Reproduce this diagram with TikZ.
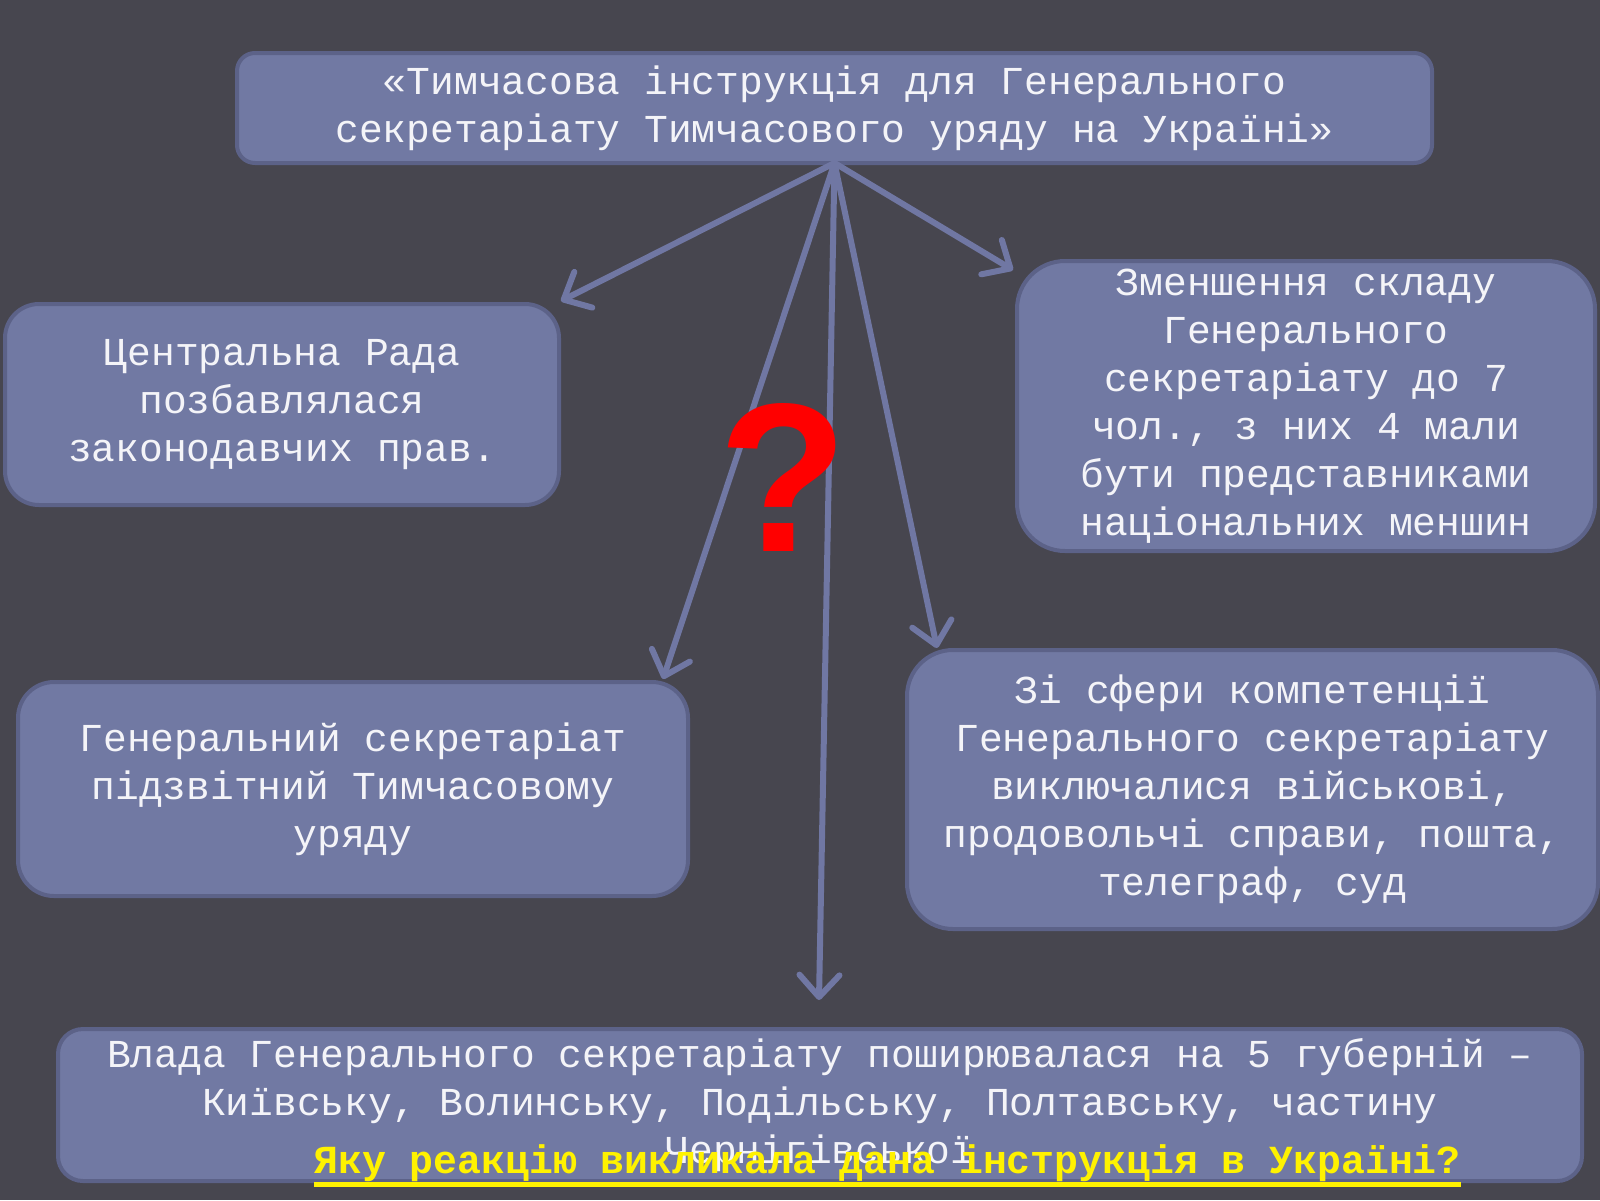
\documentclass[tikz,border=0pt]{standalone}
\usepackage{fontspec}
\newfontfamily\cour{Liberation Mono}
\newfontfamily\qfont{Liberation Sans}
\usetikzlibrary{arrows.meta}
\definecolor{bg}{HTML}{47464F}
\definecolor{boxfill}{HTML}{7179A3}
\definecolor{boxline}{HTML}{5C6288}
\definecolor{arrowc}{HTML}{7077A3}
\definecolor{txt}{HTML}{F4F4F8}
\begin{document}
\begin{tikzpicture}[x=0.5pt,y=-0.5pt,
  infobox/.style={draw=boxline, line width=2pt, fill=boxfill, inner sep=0pt, outer sep=0pt,
    align=center, text=txt, font=\cour\fontsize{19.8}{24}\selectfont},
  conn/.style={draw=arrowc, line width=3pt, line cap=round,
    -{Straight Barb[length=11pt,width=20pt,round]}}]
\fill[bg] (0,0) rectangle (1600,1200);
\useasboundingbox (0,0) rectangle (1600,1200);

\node[infobox, rounded corners=9pt, minimum width=597.5pt, minimum height=55pt] (top) at (834.5,108)
  {«Тимчасова інструкція для Генерального\\секретаріату Тимчасового уряду на Україні»};
\node[infobox, rounded corners=17pt, minimum width=277pt, minimum height=100.5pt] (rada) at (282,404.5)
  {Центральна Рада\\позбавлялася\\законодавчих прав.};
\node[infobox, rounded corners=24pt, minimum width=289pt, minimum height=145pt] (sklad) at (1306,406)
  {Зменшення складу\\Генерального\\секретаріату до 7\\чол., з них 4 мали\\бути представниками\\національних меншин};
\node[infobox, rounded corners=18pt, minimum width=335pt, minimum height=107pt] (pidzv) at (353,789)
  {Генеральний секретаріат\\підзвітний Тимчасовому\\уряду};
\node[infobox, rounded corners=23pt, minimum width=345.5pt, minimum height=139.5pt] (sfera) at (1252.5,789.5)
  {Зі сфери компетенції\\Генерального секретаріату\\виключалися військові,\\продовольчі справи, пошта,\\телеграф, суд};
\node[infobox, rounded corners=12.5pt, minimum width=762pt, minimum height=76pt] (vlada) at (820,1105)
  {Влада Генерального секретаріату поширювалася на 5 губерній –\\Київську, Волинську, Подільську, Полтавську, частину\\Чернігівської};

\coordinate (tRada) at (561,301);
\coordinate (tSklad) at (1013,270);
\coordinate (tPidzv) at (663,679);
\coordinate (tSfera) at (937,648);
\coordinate (tVlada) at (819,1000);

\draw[conn] (top.south) -- (tRada);
\draw[conn] (top.south) -- (tSklad);
\draw[conn] (top.south) -- (tPidzv);
\draw[conn] (top.south) -- (tSfera);
\draw[conn] (top.south) -- (tVlada);

\node[anchor=base, inner sep=0pt, text=red, font=\qfont\bfseries\fontsize{106}{106}\selectfont] (qm) at (783,551) {?};

\node[anchor=base west, inner sep=0pt, text=yellow, font=\cour\bfseries\fontsize{19.9}{24}\selectfont] (quest) at (314,1173)
  {Яку реакцію викликала дана інструкція в Україні?};
\draw[yellow, line width=2.5pt] ([yshift=-5.5pt]quest.base west) -- ([yshift=-5.5pt]quest.base east);
\end{tikzpicture}
\end{document}
